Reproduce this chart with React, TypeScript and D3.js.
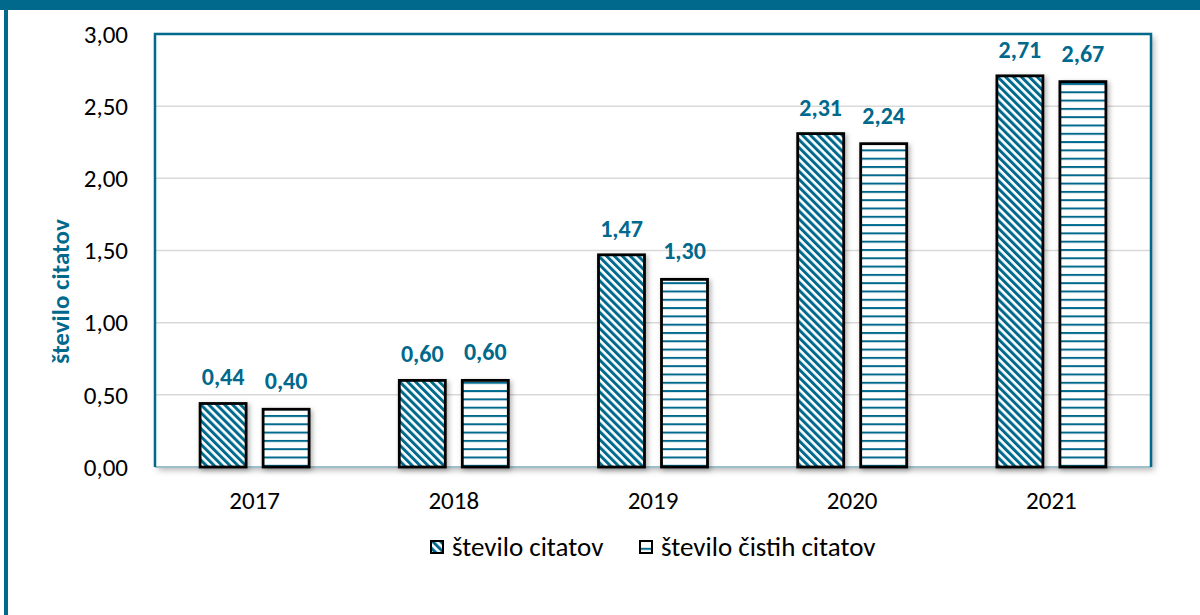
import React from "react";
import * as d3 from "d3";

const categories = ["2017", "2018", "2019", "2020", "2021"];
const seriesNames = ["število citatov", "število čistih citatov"];
const citations = [0.44, 0.6, 1.47, 2.31, 2.71];
const cleanCitations = [0.4, 0.6, 1.3, 2.24, 2.67];
const yTicks = [0, 0.5, 1, 1.5, 2, 2.5, 3];
const yTitle = "število citatov";

const TEAL = "#00698C";
const FONT = "Calibri, Carlito, Lato, 'Open Sans', sans-serif";

export default function App() {
  const W = 1200, H = 615;
  const left = 155, right = 1151, top = 34, bottom = 467;
  const x = d3.scaleBand<string>().domain(categories).range([left, right]);
  const y = d3.scaleLinear().domain([0, 3]).range([bottom, top]);
  const fmt = (v: number) => v.toFixed(2).replace(".", ",");
  const barW = 46;
  const gap = 17;
  const series = [citations, cleanCitations];
  const fills = ["url(#diag)", "url(#horiz)"];

  return (
    <svg width={W} height={H} style={{ position: "absolute", left: 0, top: 0, display: "block" }}>
      <defs>
        <pattern id="diag" patternUnits="userSpaceOnUse" width={5.6} height={5.6} patternTransform="rotate(-45)">
          <rect x={0} y={0} width={5.6} height={5.6} fill="#fff" />
          <rect x={0} y={0} width={3} height={5.6} fill={TEAL} />
        </pattern>
        <pattern id="horiz" patternUnits="userSpaceOnUse" width={8} height={8.3}>
          <rect x={0} y={0} width={8} height={8.3} fill="#fff" />
          <rect x={0} y={0} width={8} height={2} fill={TEAL} />
        </pattern>
        <filter id="shadow" x="-10%" y="-10%" width="130%" height="130%">
          <feDropShadow dx={3} dy={3} stdDeviation={3} floodColor="#000" floodOpacity={0.3} />
        </filter>
        <filter id="barshadow" x="-30%" y="-10%" width="160%" height="130%">
          <feDropShadow dx={2} dy={2} stdDeviation={2.5} floodColor="#000" floodOpacity={0.3} />
        </filter>
      </defs>
      <rect x={0} y={0} width={W} height={H} fill="#fff" />
      {/* outer frame */}
      <rect x={0} y={0} width={W} height={10} fill={TEAL} />
      <rect x={4} y={0} width={4} height={H} fill={TEAL} />

      {/* plot area */}
      <rect x={left} y={top} width={right - left} height={bottom - top} fill="#fff" filter="url(#shadow)" />
      {yTicks.filter((t) => t > 0 && t < 3).map((t) => (
        <line key={t} x1={left} x2={right} y1={y(t)} y2={y(t)} stroke="#D9D9D9" strokeWidth={1.5} />
      ))}
      <line x1={left} x2={right} y1={bottom} y2={bottom} stroke="#9DBFCC" strokeWidth={2} />
      <path d={`M${left},${bottom} V${top} H${right} V${bottom}`} fill="none" stroke={TEAL} strokeWidth={2.5} />

      {/* y tick labels */}
      {yTicks.map((t) => (
        <text key={t} x={128} y={y(t)} dy="0.35em" textAnchor="end" fontFamily={FONT} fontSize={25} fill="#000">
          {fmt(t)}
        </text>
      ))}
      <text transform={`translate(69,${(top + bottom) / 2 + 41}) rotate(-90)`} textAnchor="middle"
        fontFamily={FONT} fontSize={25} fontWeight="bold" fill={TEAL}>
        {yTitle}
      </text>

      {/* bars */}
      {categories.map((c, i) => {
        const cx = (x(c) as number) + x.bandwidth() / 2;
        return (
          <g key={c}>
            {series.map((s, k) => {
              const bx = k === 0 ? cx - gap / 2 - barW : cx + gap / 2;
              const v = s[i];
              return (
                <g key={k}>
                  <rect x={bx} y={y(v)} width={barW} height={bottom - y(v)} fill={fills[k]}
                    stroke="#000" strokeWidth={2.8} filter="url(#barshadow)" />
                  <text x={bx + barW / 2} y={y(v) - (k === 0 ? 18 : 20)} textAnchor="middle"
                    fontFamily={FONT} fontSize={24} fontWeight="bold" fill={TEAL}>
                    {fmt(v)}
                  </text>
                </g>
              );
            })}
            <text x={cx} y={500} dy="0.35em" textAnchor="middle" fontFamily={FONT} fontSize={25} fill="#000">
              {c}
            </text>
          </g>
        );
      })}

      {/* legend */}
      {seriesNames.map((n, k) => {
        const lx = k === 0 ? 431 : 640;
        return (
          <g key={n}>
            <rect x={lx} y={541} width={12} height={12} fill={fills[k]} stroke="#000" strokeWidth={2} />
            <text x={lx + 21} y={547} dy="0.35em" fontFamily={FONT} fontSize={27} fill="#000">
              {n}
            </text>
          </g>
        );
      })}
    </svg>
  );
}
